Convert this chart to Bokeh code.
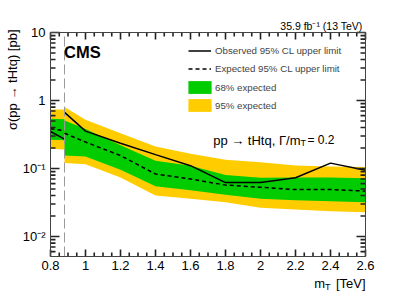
import math
from bokeh.plotting import figure
from bokeh.models import (Range1d, FixedTicker, CustomJSTickFormatter, LinearAxis, LogAxis,
                          Label, Legend, LegendItem)
from bokeh.embed import file_html
from bokeh.resources import INLINE

# ---------------- data ----------------
# narrow-mass segment (left of the boundary)
mass_low = [0.8, 0.88]
obs_low = [0.35, 0.27]
exp_low = [0.385, 0.36]
b68_low_lo = [0.265, 0.26]
b68_low_hi = [0.54, 0.53]
b95_low_lo = [0.195, 0.19]
b95_low_hi = [0.74, 0.74]

# main segment
mass_high = [0.88, 1.0, 1.2, 1.4, 1.6, 1.8, 2.0, 2.2, 2.4, 2.6]
obs_high = [0.67, 0.355, 0.235, 0.16, 0.11, 0.062, 0.062, 0.073, 0.12, 0.094]
exp_high = [0.33, 0.245, 0.155, 0.083, 0.07, 0.057, 0.053, 0.049, 0.049, 0.0465]
b68_high_hi = [0.51, 0.38, 0.22, 0.13, 0.11, 0.08, 0.073, 0.074, 0.074, 0.072]
b68_high_lo = [0.155, 0.15, 0.096, 0.055, 0.048, 0.041, 0.036, 0.034, 0.033, 0.032]
b95_high_hi = [0.8, 0.52, 0.33, 0.21, 0.165, 0.135, 0.124, 0.111, 0.107, 0.105]
b95_high_lo = [0.12, 0.115, 0.074, 0.040, 0.036, 0.032, 0.0264, 0.025, 0.0235, 0.0228]

boundary = 0.88

x_ticks = [0.8, 1.0, 1.2, 1.4, 1.6, 1.8, 2.0, 2.2, 2.4, 2.6]
y_ticks = [0.01, 0.1, 1, 10]

legend_labels = ["Observed 95% CL upper limit", "Expected 95% CL upper limit",
                 "68% expected", "95% expected"]

# ---------------- styling / layout ----------------
FONT = "Liberation Sans"
GREEN = "#00CC00"
YELLOW = "#FFCC00"
AXIS_COL = "#444444"
TICK_COL = "#222222"

W, H = 407, 292
FL, FR, FT, FB = 50, 365, 32, 256          # data box in page pixels
X0, X1 = 0.8, 2.6
PX_PER_DEC = 68.0
KX = (X1 - X0) / (FR - FL)                  # data units per pixel along x


def dx(px):
    return X0 + (px - FL) * KX


def dy(py):
    return 10 ** (1 - (py - FT) / PX_PER_DEC)


Y1 = 10.0
Y0 = dy(FB)

x_minor = [round(0.8 + 0.05 * i, 2) for i in range(37)]
y_minor = [m * 10.0 ** e for e in range(-3, 2) for m in range(2, 10)]
y_minor = [v for v in y_minor if Y0 <= v <= Y1]

# The plotting frame covers the whole canvas; the data box is drawn by fixed-location axes,
# so that titles outside the data box are not clipped.
p = figure(width=W, height=H, x_range=Range1d(dx(0), dx(W)), y_range=Range1d(dy(H), dy(0)),
           y_axis_type="log", x_axis_location=None, y_axis_location=None,
           output_backend="svg", toolbar_location=None,
           min_border_left=0, min_border_right=0, min_border_top=0, min_border_bottom=0)
p.grid.visible = False
p.outline_line_color = None
p.background_fill_color = "white"
p.border_fill_color = "white"

x_fmt = CustomJSTickFormatter(code="return (Math.round(tick*10)/10).toString();")
y_fmt = CustomJSTickFormatter(code="""
const e = Math.round(Math.log10(tick));
if (e == 0) return '1';
if (e == 1) return '10';
const sup = {'-':'\u207b','0':'\u2070','1':'\u00b9','2':'\u00b2','3':'\u00b3'};
return '10' + String(e).split('').map(c => sup[c]).join('');
""")
blank = CustomJSTickFormatter(code="return '';")


def make_axis(cls, ticks, minor, fmt, loc, bounds, standoff):
    ax = cls(ticker=FixedTicker(ticks=ticks, minor_ticks=minor), formatter=fmt,
             fixed_location=loc, bounds=bounds)
    ax.axis_line_color = AXIS_COL
    ax.axis_line_width = 1
    ax.major_tick_in = 0
    ax.major_tick_out = 0
    ax.minor_tick_in = 0
    ax.minor_tick_out = 0
    ax.major_label_text_font = FONT
    ax.major_label_text_font_size = "13px"
    ax.major_label_text_color = "black"
    ax.major_label_standoff = standoff
    return ax


p.add_layout(make_axis(LinearAxis, x_ticks, x_minor, x_fmt, Y0, (X0, X1), 4), "below")
p.add_layout(make_axis(LogAxis, y_ticks, y_minor, y_fmt, X0, (Y0, Y1), 5), "left")
p.add_layout(make_axis(LinearAxis, x_ticks, x_minor, blank, Y1, (X0, X1), 0), "above")
p.add_layout(make_axis(LogAxis, y_ticks, y_minor, blank, X1, (Y0, Y1), 0), "right")

# ---------------- marks ----------------
y95a = p.varea(x=mass_low, y1=b95_low_lo, y2=b95_low_hi, fill_color=YELLOW)
y95b = p.varea(x=mass_high, y1=b95_high_lo, y2=b95_high_hi, fill_color=YELLOW)
g68a = p.varea(x=mass_low, y1=b68_low_lo, y2=b68_low_hi, fill_color=GREEN)
g68b = p.varea(x=mass_high, y1=b68_high_lo, y2=b68_high_hi, fill_color=GREEN)
ea = p.line(mass_low, exp_low, line_color="black", line_width=1.5, line_dash="4 3")
eb = p.line(mass_high, exp_high, line_color="black", line_width=1.5, line_dash="4 3")
oa = p.line(mass_low, obs_low, line_color="black", line_width=1.5)
ob = p.line(mass_high, obs_high, line_color="black", line_width=1.5)

# boundary between the two mass regions
p.segment(x0=[boundary], y0=[Y0], x1=[boundary], y1=[Y1], line_color="#9a9a9a",
          line_width=1, line_dash="10 4")

# ---------------- inward ticks drawn as thin rectangles (ROOT style) ----------------
x_min_only = [v for v in x_minor if v not in x_ticks]
y_min_only = [v for v in y_minor if v not in y_ticks]
TICK_W = 1.6


def xtick_marks(xs, length_px):
    n = len(xs)
    yb = 10 ** (math.log10(Y0) + 0.5 * length_px / PX_PER_DEC)
    yt = 10 ** (math.log10(Y1) - 0.5 * length_px / PX_PER_DEC)
    for yc in (yb, yt):
        p.rect(x=list(xs), y=[yc] * n, width=[TICK_W] * n, height=[length_px] * n,
               width_units="screen", height_units="screen",
               fill_color=TICK_COL, line_color=None)


def ytick_marks(ys, length_px):
    n = len(ys)
    xl = X0 + 0.5 * length_px * KX
    xr = X1 - 0.5 * length_px * KX
    for xc in (xl, xr):
        p.rect(x=[xc] * n, y=list(ys), width=[length_px] * n, height=[TICK_W] * n,
               width_units="screen", height_units="screen",
               fill_color=TICK_COL, line_color=None)


xtick_marks(x_ticks, 7)
xtick_marks(x_min_only, 4)
ytick_marks(y_ticks, 9)
ytick_marks(y_min_only, 5)

# ---------------- legends ----------------
leg_lines = Legend(items=[LegendItem(label=legend_labels[0], renderers=[ob]),
                          LegendItem(label=legend_labels[1], renderers=[eb])],
                   location=(188, 217), glyph_width=23, glyph_height=13, label_height=13,
                   spacing=5, padding=0, margin=0, label_standoff=4,
                   label_text_font=FONT, label_text_font_size="9.7px",
                   border_line_color=None, background_fill_alpha=0)
leg_bands = Legend(items=[LegendItem(label=legend_labels[2], renderers=[g68b]),
                          LegendItem(label=legend_labels[3], renderers=[y95b])],
                   location=(185, 179), glyph_width=29, glyph_height=16, label_height=16,
                   spacing=2, padding=0, margin=0, label_standoff=1,
                   label_text_font=FONT, label_text_font_size="9.7px",
                   border_line_color=None, background_fill_alpha=0)
p.add_layout(leg_lines)
p.add_layout(leg_bands)


# ---------------- texts ----------------
def lab(px, py, text, size, align="left", baseline="alphabetic", style="normal", angle=0.0):
    p.add_layout(Label(x=dx(px), y=dy(py), text=text, text_font=FONT, text_font_size=size,
                       text_align=align, text_baseline=baseline, text_font_style=style,
                       angle=angle, text_color="black"))


lab(362, 25, "35.9 fb\u207b\u00b9 (13 TeV)", "10.5px", align="right")
lab(63.5, 51.7, "CMS", "16.5px", style="bold")

# process text
lab(300, 139.5, "pp \u2192 tHtq, \u0393/m", "13px", align="right")
lab(300, 142.5, "T", "9px")
lab(307, 139.5, "= 0.2", "12px")

# x-axis title
lab(365, 283, "[TeV]", "13px", align="right")
lab(330, 286, "T", "9px", align="right")
lab(324.5, 283, "m", "13px", align="right")

# y-axis title
lab(12, 29, "\u03c3(pp \u2192 tHtq) [pb]", "13px", align="right", baseline="middle",
    angle=math.pi / 2)

open("out.html", "w").write(file_html(p, INLINE))
